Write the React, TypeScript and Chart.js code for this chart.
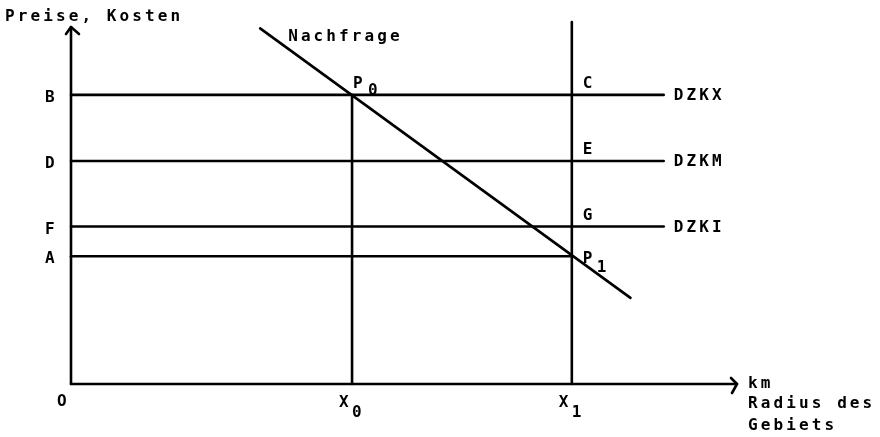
import React, { useEffect, useRef } from 'react';
import { Chart, registerables } from 'chart.js';

Chart.register(...registerables);

// ---- data (schematic units: x = radius, y = price / cost) ----
const priceLevelLabels = ['B', 'D', 'F', 'A'];
const priceLevels = [82.6, 63.7, 45, 36.5];
const costCurveNames = ['DZKX', 'DZKM', 'DZKI'];
const costPointLabels = ['C', 'E', 'G'];
const radiusSubscripts = ['0', '1'];
const radiusValues = [42.2, 75.2];
const demandX = [28.4, 84];
const demandY = [101.6, 24.6];
const costLineEnd = 89;
const xAxisMax = 100;
const yAxisMax = 102;
const x1LineTop = 103.4;
const yAxisTitle = 'Preise, Kosten';
const xAxisTitle = ['km', 'Radius des', 'Gebiets'];
const demandLabel = 'Nachfrage';
const originLabel = 'O';

const FONT = 'bold 16px "DejaVu Sans Mono"';
const SPACING = 3.1;

type P = { x: number; y: number };

const seg = (a: P, b: P) => ({
  data: [a, b],
  showLine: true,
  borderColor: '#000',
  borderWidth: 2.6,
  pointRadius: 0,
  pointHoverRadius: 0,
  clip: false as any,
  fill: false,
  borderCapStyle: 'round' as const,
});

const labelsPlugin = {
  id: 'schemaLabels',
  afterDatasetsDraw(chart: any) {
    const { ctx } = chart;
    const xs = chart.scales.x;
    const ys = chart.scales.y;
    const px = (v: number) => xs.getPixelForValue(v);
    const py = (v: number) => ys.getPixelForValue(v);
    ctx.save();
    ctx.fillStyle = '#000';
    ctx.strokeStyle = '#000';
    ctx.lineWidth = 2.6;
    ctx.lineCap = 'round';
    ctx.lineJoin = 'round';

    // arrow heads
    const ytx = px(0), yty = py(yAxisMax);
    ctx.beginPath();
    ctx.moveTo(ytx - 5, yty + 7);
    ctx.lineTo(ytx, yty);
    ctx.lineTo(ytx + 8, yty + 7);
    ctx.stroke();
    const xtx = px(xAxisMax), xty = py(0);
    ctx.beginPath();
    ctx.moveTo(xtx - 6, xty - 6);
    ctx.lineTo(xtx, xty);
    ctx.lineTo(xtx - 5, xty + 9);
    ctx.stroke();

    ctx.font = FONT;
    ctx.textBaseline = 'alphabetic';
    ctx.textAlign = 'left';
    const text = (s: string, x: number, y: number) => {
      (ctx as any).letterSpacing = s.length > 1 ? SPACING + 'px' : '0px';
      ctx.fillText(s, x, y);
    };

    // y-axis title
    text(yAxisTitle, ytx - 66, yty - 6);

    // price levels on y axis
    priceLevelLabels.forEach((l, i) => text(l, px(0) - 26, py(priceLevels[i]) + 7));
    text(originLabel, px(0) - 14, py(0) + 22);

    // radius labels
    radiusValues.forEach((r, i) => {
      text('X', px(r) - 13, py(0) + 23);
      text(radiusSubscripts[i], px(r), py(0) + 33);
    });

    // cost curve names and points on X1
    costCurveNames.forEach((n, i) => {
      text(n, px(costLineEnd) + 10, py(priceLevels[i]) + 5);
      text(costPointLabels[i], px(radiusValues[1]) + 11, py(priceLevels[i]) - 7);
    });

    // P0 and P1
    text('P', px(radiusValues[0]) + 1, py(priceLevels[0]) - 7);
    text('0', px(radiusValues[0]) + 16, py(priceLevels[0]));
    text('P', px(radiusValues[1]) + 11, py(priceLevels[3]) + 7);
    text('1', px(radiusValues[1]) + 25, py(priceLevels[3]) + 16);

    // demand label
    text(demandLabel, px(demandX[0]) + 28, py(demandY[0]) + 13);

    // x axis title
    const bases = [4, 24, 46];
    xAxisTitle.forEach((t, i) => text(t, xtx + 11, xty + bases[i]));

    ctx.restore();
  },
};

export default function App() {
  const ref = useRef<HTMLCanvasElement>(null);
  useEffect(() => {
    if (!ref.current) return;
    const datasets: any[] = [];
    // axes
    datasets.push(seg({ x: 0, y: 0 }, { x: 0, y: yAxisMax }));
    datasets.push(seg({ x: 0, y: 0 }, { x: xAxisMax, y: 0 }));
    // cost curves (horizontal)
    costCurveNames.forEach((_, i) =>
      datasets.push(seg({ x: 0, y: priceLevels[i] }, { x: costLineEnd, y: priceLevels[i] }))
    );
    // price A up to X1
    datasets.push(seg({ x: 0, y: priceLevels[3] }, { x: radiusValues[1], y: priceLevels[3] }));
    // X0 vertical up to B
    datasets.push(seg({ x: radiusValues[0], y: 0 }, { x: radiusValues[0], y: priceLevels[0] }));
    // X1 vertical
    datasets.push(seg({ x: radiusValues[1], y: 0 }, { x: radiusValues[1], y: x1LineTop }));
    // demand
    datasets.push(seg({ x: demandX[0], y: demandY[0] }, { x: demandX[1], y: demandY[1] }));

    const chart = new Chart(ref.current, {
      type: 'scatter',
      data: { datasets },
      options: {
        animation: false,
        responsive: false,
        devicePixelRatio: 1,
        layout: { padding: { left: 71, right: 143, top: 20, bottom: 53 } },
        scales: {
          x: { type: 'linear', min: 0, max: xAxisMax, display: false },
          y: { type: 'linear', min: 0, max: 104, display: false },
        },
        plugins: { legend: { display: false }, tooltip: { enabled: false } },
        events: [],
      },
      plugins: [labelsPlugin],
    });
    return () => chart.destroy();
  }, []);

  return (
    <div style={{ position: 'absolute', left: 0, top: 0, width: 880, height: 437, background: '#fff' }}>
      <canvas ref={ref} width={880} height={437} style={{ width: 880, height: 437, display: 'block' }} />
    </div>
  );
}
